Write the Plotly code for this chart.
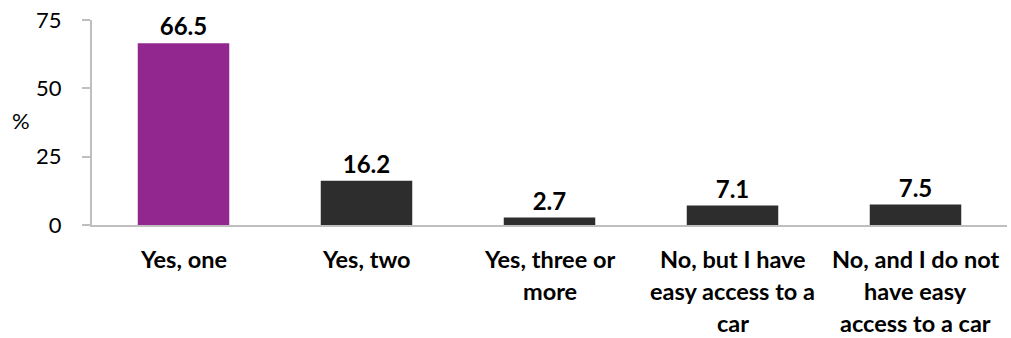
import plotly.graph_objects as go

categories = ["Yes, one", "Yes, two", "Yes, three or<br>more",
              "No, but I have<br>easy access to a<br>car",
              "No, and I do not<br>have easy<br>access to a car"]
values = [66.5, 16.2, 2.7, 7.1, 7.5]
bar_colors = ["#92278F", "#2D2D2D", "#2D2D2D", "#2D2D2D", "#2D2D2D"]
y_ticks = [0, 25, 50, 75]

FONT = "Lato, Carlito, Calibri, sans-serif"
AXIS_GREY = "#BFBFBF"

fig = go.Figure(go.Bar(
    x=categories, y=values,
    marker=dict(color=bar_colors, line=dict(width=0)),
    text=[f"{v:.1f}" for v in values], textposition="outside",
    textfont=dict(family=FONT, size=24, color="#000000", weight="bold"),
    cliponaxis=False,
))

# category labels as annotations, one per line, for Excel-like line spacing
for cat in categories:
    for i, line in enumerate(cat.split("<br>")):
        fig.add_annotation(
            x=cat, xref="x", y=0, yref="paper", yanchor="top",
            yshift=-18 - 32 * i, text=f"<b>{line}</b>", showarrow=False,
            font=dict(family=FONT, size=23.5, color="#000000"),
        )

fig.add_annotation(
    x=-0.078, xref="paper", xanchor="center", y=0.51, yref="paper",
    text="%", showarrow=False, font=dict(family=FONT, size=22, color="#000000"),
)

fig.update_layout(
    width=1011, height=338,
    paper_bgcolor="white", plot_bgcolor="white",
    margin=dict(l=92, r=4, t=20, b=113),
    bargap=0.5, showlegend=False,
    font=dict(family=FONT, color="#000000"),
)
fig.update_xaxes(showticklabels=False, showline=True, linecolor=AXIS_GREY,
                 linewidth=2, ticks="", showgrid=False)
fig.update_yaxes(range=[0, 75], tickvals=y_ticks, showgrid=False, zeroline=False,
                 showline=True, linecolor=AXIS_GREY, linewidth=2,
                 ticks="outside", ticklen=8, tickcolor=AXIS_GREY, tickwidth=2,
                 ticklabelstandoff=16, tickfont=dict(family=FONT, size=22, color="#000000"))

# drop the default page margin so the figure sits at the window's corner
fig.write_html("out.html", config={"displayModeBar": False},
               post_script="document.body.style.margin='0';")
